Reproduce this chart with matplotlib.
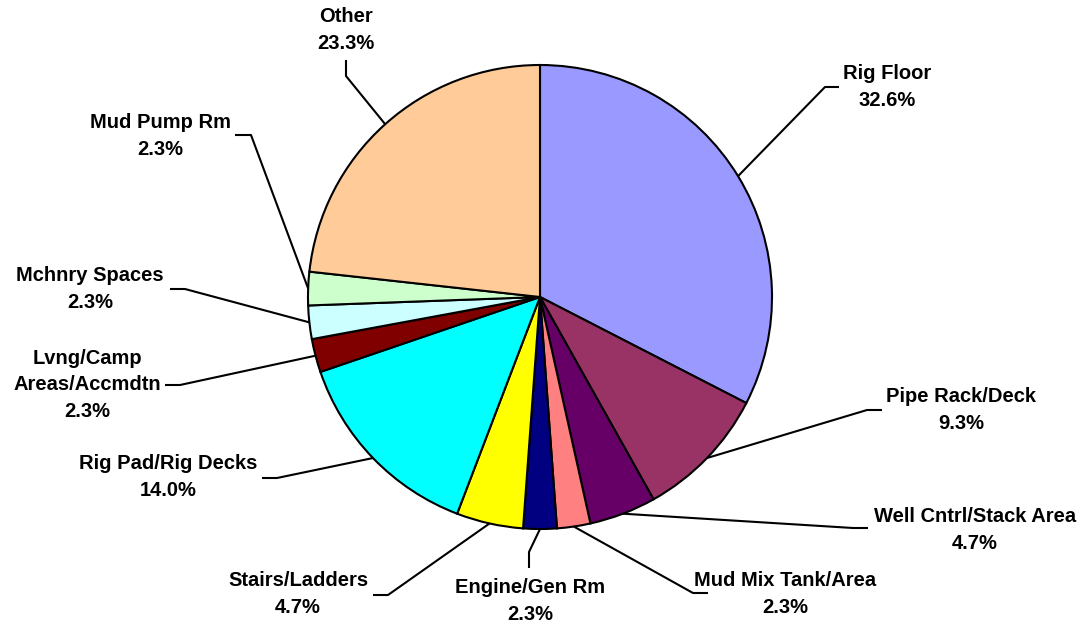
import numpy as np
import matplotlib.pyplot as plt

# Incidentes por zona (conteos)
zonas = ['Rig Floor', 'Pipe Rack/Deck', 'Well Cntrl/Stack Area', 'Mud Mix Tank/Area',
         'Engine/Gen Rm', 'Stairs/Ladders', 'Rig Pad/Rig Decks',
         'Lvng/Camp\nAreas/Accmdtn', 'Mchnry Spaces', 'Mud Pump Rm', 'Other']
conteos = [14, 4, 2, 1, 1, 2, 6, 1, 1, 1, 10]
colores = ['#9999FF', '#993366', '#660066', '#FF8080', '#000080', '#FFFF00',
           '#00FFFF', '#800000', '#CCFFFF', '#CCFFCC', '#FFCC99']

# Posiciones de etiquetas en pixeles: (centro texto), (codo), (fin de linea)
W, H = 1086, 624
etiquetas = [
    ((887, 87), (825, 87), (839, 87)),
    ((961, 410), (867, 410), (882, 410)),
    ((975, 530), (853, 528), (868, 528)),
    ((785, 594), (693, 593), (708, 593)),
    ((530, 601), (529, 552), (529, 568)),
    ((298, 594), (388, 595), (373, 595)),
    ((168, 477), (277, 478), (262, 478)),
    ((87, 385), (180, 385), (165, 385)),
    ((90, 289), (185, 289), (170, 289)),
    ((160, 136), (251, 135), (235, 135)),
    ((346, 30), (346, 76), (346, 60)),
]

def py(y):
    return H - y

fig = plt.figure(figsize=(W / 100, H / 100), dpi=100)
ax = fig.add_axes([0, 0, 1, 1])

cx, cy, r = 540, py(297), 232
wedges, _ = ax.pie(conteos, colors=colores, startangle=90, counterclock=False,
                   center=(cx, cy), radius=r,
                   wedgeprops=dict(edgecolor='black', linewidth=1.5))

total = sum(conteos)
for w, nombre, c, (txt, codo, fin) in zip(wedges, zonas, conteos, etiquetas):
    ang = np.deg2rad((w.theta1 + w.theta2) / 2)
    ex, ey = cx + r * np.cos(ang), cy + r * np.sin(ang)
    ax.plot([ex, codo[0], fin[0]], [ey, py(codo[1]), py(fin[1])],
            color='black', linewidth=1.5, solid_capstyle='butt', zorder=3)
    ax.text(txt[0], py(txt[1]), f'{nombre}\n{c / total * 100:.1f}%',
            ha='center', va='center', fontsize=14.5, fontweight='bold',
            family='Liberation Sans', linespacing=1.5)

ax.set_xlim(0, W)
ax.set_ylim(0, H)
ax.set_aspect('equal')
ax.axis('off')
fig.savefig('out.png', dpi=100, facecolor='white')
